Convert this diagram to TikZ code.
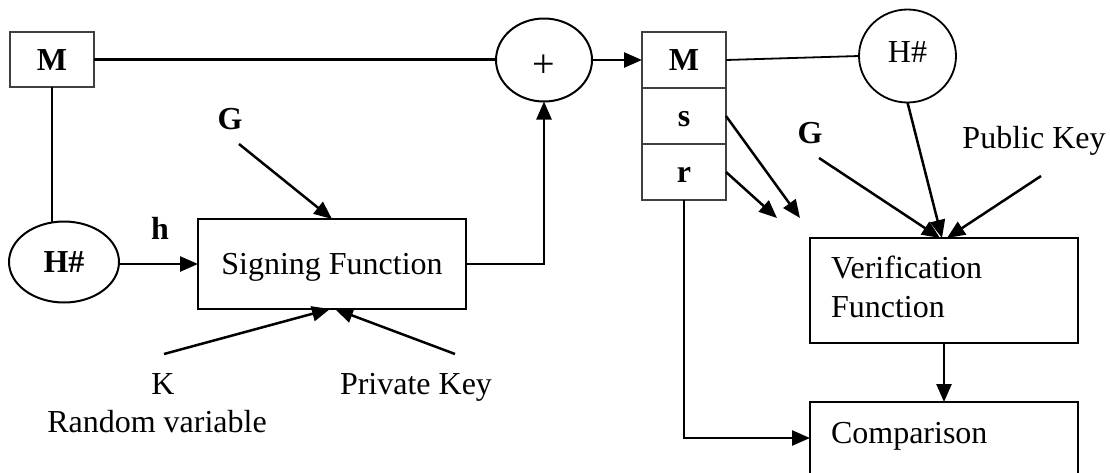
\documentclass[tikz,border=0pt]{standalone}
\usepackage{fontspec}
\setmainfont{Liberation Serif}
\usetikzlibrary{arrows.meta,shapes.geometric,calc}

\begin{document}
\begin{tikzpicture}[x=1pt,y=-1pt,
  every node/.style={font=\fontsize{32}{39}\selectfont, inner sep=0pt, outer sep=0pt},
  bold/.style={font=\fontsize{32}{39}\selectfont\bfseries},
  shaped/.style={text height=21pt, text depth=0pt},
  cellbox/.style={shaped, rectangle, draw=black!75, line width=1.3pt, minimum width=84pt, minimum height=56pt},
  funcbox/.style={shaped, rectangle, draw, line width=2.2pt},
  oval/.style={shaped, ellipse, draw, line width=2pt},
  tag/.style={anchor=base},
  wire/.style={line width=2.5pt},
  flow/.style={wire, -{Triangle[length=18pt,width=15pt]}},
]
\useasboundingbox (0,0) rectangle (1110,472);

% ---------- signing side ----------
\node[cellbox, bold, minimum height=55pt] (Mbox) at (52,59.5) {M};
\node[oval, font=\fontsize{40}{40}\selectfont, text height=35pt, minimum width=96pt, minimum height=83pt] (plus) at (544,60) {+};
\node[oval, bold, minimum width=110pt, minimum height=81pt] (hashL) at (64,262) {H\#};
\node[funcbox, minimum width=268pt, minimum height=90pt] (sign) at (332,264) {Signing Function};

\node[tag, bold] (Gl) at (230,129) {G};
\node[tag, bold] (hl) at (160,239) {h};
\node[tag] (Kt) at (163,394) {K};
\node[tag] (Rv) at (157,432) {Random variable};
\node[tag] (Pk) at (416,394) {Private Key};

\coordinate (gA) at (239,144);
\coordinate (kA) at (164,354);
\coordinate (pA) at (455,354);

% ---------- signed message ----------
\node[cellbox, bold] (Mc) at (684,60) {M};
\node[cellbox, bold] (sc) at (684,116) {s};
\node[cellbox, bold] (rc) at (684,172) {r};

% ---------- verifying side ----------
\node[oval, text depth=9pt, line width=1.8pt, minimum width=97pt, minimum height=93pt] (hashR) at (907.5,56) {H\#};
\node[tag, bold] (Gr) at (810,143) {G};
\node[tag] (Pub) at (1034,148) {Public Key};
\node[funcbox, minimum width=268pt, minimum height=105pt] (verif) at (944,290.5) {};
\node[anchor=base west] (verifA) at (831,278) {Verification};
\node[anchor=base west] (verifB) at (831,317) {Function};
\node[funcbox, minimum width=268pt, minimum height=88pt] (comp) at (944,446) {};
\node[anchor=base west] (compt) at (831,443) {Comparison};

\coordinate (gB) at (819,158);
\coordinate (pB) at (1041,176);
\coordinate (sT) at (800,218);
\coordinate (rT) at (777,218);
\coordinate (cin) at ([yshift=-36pt]comp.north west);

% ---------- connectors ----------
\draw[wire] (Mbox.east) -- (Mbox.east -| plus.west);
\draw[wire] (Mbox.south) -- (Mbox.south |- hashL.north);
\draw[flow] (hashL.east |- sign.west) -- (sign.west);
\draw[flow] (sign.east) -| (plus.south);
\draw[flow] (gA) -- (sign.north);
\draw[flow] (kA) -- ([xshift=-2pt]sign.south);
\draw[flow] (pA) -- ([xshift=3pt]sign.south);

\draw[flow] (plus.east) -- (Mc.west);
\draw[line width=1.8pt] (Mc.east) -- (hashR.west);
\draw[flow] (sc.east) -- (sT);
\draw[flow] (rc.east) -- (rT);
\draw[flow] (rc.south) |- (cin);

\draw[flow] (gB) -- ([xshift=-4pt]verif.north);
\draw[flow] (hashR.south) -- ([xshift=-2pt]verif.north);
\draw[flow] (pB) -- ([xshift=3pt]verif.north);
\draw[flow] (verif.south) -- (comp.north);
\end{tikzpicture}
\end{document}
